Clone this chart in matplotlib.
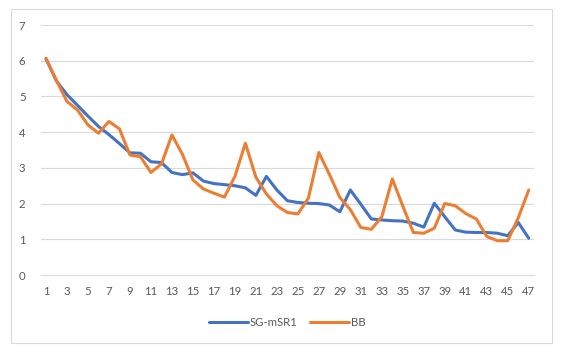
import matplotlib.pyplot as plt
from matplotlib.patches import Rectangle

# --------------------------------------------------
# Data
# --------------------------------------------------

x = list(range(1, 48))

sg_msr1 = [6.05, 5.43, 5.05, 4.75, 4.45, 4.16, 3.93, 3.68, 3.42, 3.41,
           3.17, 3.15, 2.87, 2.81, 2.86, 2.63, 2.56, 2.53, 2.50, 2.44,
           2.23, 2.76, 2.38, 2.08, 2.03, 2.01, 2.00, 1.96, 1.77, 2.38,
           1.98, 1.57, 1.54, 1.52, 1.51, 1.45, 1.34, 2.01, 1.63, 1.26,
           1.20, 1.19, 1.19, 1.17, 1.10, 1.47, 1.03]

bb = [6.07, 5.44, 4.86, 4.62, 4.20, 3.97, 4.30, 4.09, 3.36, 3.31,
      2.87, 3.11, 3.92, 3.38, 2.66, 2.41, 2.29, 2.18, 2.76, 3.69,
      2.74, 2.27, 1.94, 1.75, 1.71, 2.15, 3.43, 2.82, 2.17, 1.83,
      1.33, 1.28, 1.63, 2.69, 1.93, 1.19, 1.17, 1.31, 2.00, 1.94,
      1.72, 1.57, 1.08, 0.96, 0.96, 1.60, 2.38]

labels = ["SG-mSR1", "BB"]
colors = ["#4472C4", "#ED7D31"]

# --------------------------------------------------
# Plot
# --------------------------------------------------

plt.rcParams["font.family"] = ["Lato", "DejaVu Sans"]

fig = plt.figure(figsize=(5.65, 3.52), dpi=100)
ax = fig.add_axes([40.75 / 565, 77 / 352, 493.25 / 565, 250 / 352])

# chart area border
fig.patches.append(Rectangle((11 / 565, 9 / 352), 541 / 565, 334 / 352,
                             transform=fig.transFigure, fill=False,
                             edgecolor="#D9D9D9", linewidth=0.8))

ax.plot(x, sg_msr1, color=colors[0], linewidth=2.2, label=labels[0],
        solid_joinstyle="round", solid_capstyle="round")
ax.plot(x, bb, color=colors[1], linewidth=2.2, label=labels[1],
        solid_joinstyle="round", solid_capstyle="round")

ax.set_xlim(0.5, 47.5)
ax.set_ylim(0, 7)
ax.set_yticks(range(0, 8))
ax.set_xticks(x[::2])

ax.grid(axis="y", color="#D9D9D9", linewidth=0.8)
ax.set_axisbelow(True)
for side in ["top", "right", "left"]:
    ax.spines[side].set_visible(False)
ax.spines["bottom"].set_color("#D9D9D9")
ax.spines["bottom"].set_linewidth(0.8)

ax.tick_params(axis="both", length=0, labelsize=8.2, labelcolor="#595959")
ax.tick_params(axis="y", pad=11)
ax.tick_params(axis="x", pad=8)

leg = ax.legend(loc="center", bbox_to_anchor=(0.5, -0.19), ncol=2,
                frameon=False, fontsize=8.2, handlelength=3.4,
                handletextpad=0.15, columnspacing=1.1)
for t in leg.get_texts():
    t.set_color("#595959")

fig.savefig("out.png", dpi=100)
